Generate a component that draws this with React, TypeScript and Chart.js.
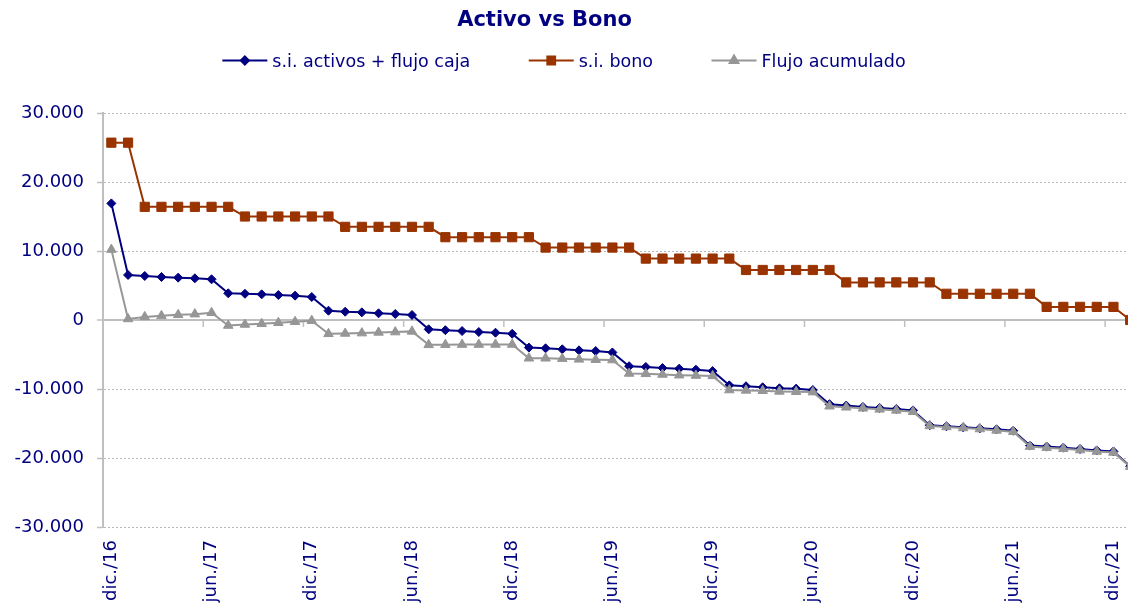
import React, { useEffect, useRef } from 'react';
import { Chart, registerables } from 'chart.js';
import { drawPoint } from 'chart.js/helpers';

Chart.register(...registerables);

const chartTitle = 'Activo vs Bono';

const categories = [
  'dic./16',
  'ene./17', 'feb./17', 'mar./17', 'abr./17', 'may./17', 'jun./17', 'jul./17', 'ago./17', 'sep./17', 'oct./17', 'nov./17', 'dic./17',
  'ene./18', 'feb./18', 'mar./18', 'abr./18', 'may./18', 'jun./18', 'jul./18', 'ago./18', 'sep./18', 'oct./18', 'nov./18', 'dic./18',
  'ene./19', 'feb./19', 'mar./19', 'abr./19', 'may./19', 'jun./19', 'jul./19', 'ago./19', 'sep./19', 'oct./19', 'nov./19', 'dic./19',
  'ene./20', 'feb./20', 'mar./20', 'abr./20', 'may./20', 'jun./20', 'jul./20', 'ago./20', 'sep./20', 'oct./20', 'nov./20', 'dic./20',
  'ene./21', 'feb./21', 'mar./21', 'abr./21', 'may./21', 'jun./21', 'jul./21', 'ago./21', 'sep./21', 'oct./21', 'nov./21', 'dic./21',
  'ene./22',
];

const seriesNames = ['s.i. activos + flujo caja', 's.i. bono', 'Flujo acumulado'];

const activosFlujoCaja = [
  16900,
  6520, 6380, 6230, 6140, 6040, 5900,
  3870, 3800, 3720, 3620, 3530, 3330,
  1350, 1200, 1110, 970, 870, 720,
  -1350, -1480, -1600, -1740, -1840, -2000,
  -4000, -4100, -4250, -4400, -4500, -4700,
  -6700, -6800, -6960, -7050, -7200, -7400,
  -9470, -9600, -9750, -9900, -9950, -10150,
  -12200, -12400, -12600, -12750, -12900, -13100,
  -15250, -15400, -15550, -15700, -15850, -16050,
  -18200, -18350, -18500, -18700, -18900, -19050,
  -21200,
];

const siBono = [
  25700, 25700,
  16400, 16400, 16400, 16400, 16400, 16400,
  15000, 15000, 15000, 15000, 15000, 15000,
  13500, 13500, 13500, 13500, 13500, 13500,
  12000, 12000, 12000, 12000, 12000, 12000,
  10500, 10500, 10500, 10500, 10500, 10500,
  8900, 8900, 8900, 8900, 8900, 8900,
  7250, 7250, 7250, 7250, 7250, 7250,
  5450, 5450, 5450, 5450, 5450, 5450,
  3800, 3800, 3800, 3800, 3800, 3800,
  1900, 1900, 1900, 1900, 1900,
  0,
];

const flujoAcumulado = [
  10200,
  150, 450, 600, 750, 850, 1050,
  -800, -650, -550, -400, -250, -100,
  -2000, -1950, -1900, -1800, -1750, -1650,
  -3600, -3580, -3560, -3560, -3550, -3550,
  -5550, -5550, -5600, -5700, -5750, -5800,
  -7750, -7800, -7900, -8000, -8050, -8100,
  -10150, -10200, -10250, -10350, -10400, -10450,
  -12500, -12650, -12800, -12950, -13100, -13300,
  -15350, -15500, -15650, -15800, -16000, -16200,
  -18350, -18500, -18650, -18850, -19050, -19200,
  -21250,
];

const yMin = -30000;
const yMax = 30000;
const yStep = 10000;
const labelEvery = 6;

const FONT = "'DejaVu Sans', Verdana, sans-serif";
const NAVY = '#000080';
const ORANGE = '#993300';
const GRAY = '#969696';
const AXIS = '#bfbfbf';

function formatThousands(v: number): string {
  const s = String(Math.abs(Math.round(v))).replace(/\B(?=(\d{3})+(?!\d))/g, '.');
  return v < 0 ? '-' + s : s;
}

const overlayPlugin = {
  id: 'overlayPlugin',
  beforeDatasetsDraw(chart: any) {
    const { ctx, scales } = chart;
    const x = scales.x;
    const y = scales.y;
    const y0 = y.getPixelForValue(0);
    ctx.save();
    ctx.strokeStyle = AXIS;
    ctx.lineWidth = 1.5;
    for (let i = labelEvery; i < categories.length; i += labelEvery) {
      const xb = (x.getPixelForValue(i - 1) + x.getPixelForValue(i)) / 2;
      ctx.beginPath();
      ctx.moveTo(xb, y0);
      ctx.lineTo(xb, y0 + 7);
      ctx.stroke();
    }
    ctx.restore();
  },
  afterDraw(chart: any) {
    const { ctx } = chart;
    ctx.save();
    // Title
    ctx.font = `bold 21px ${FONT}`;
    ctx.fillStyle = NAVY;
    ctx.textAlign = 'center';
    ctx.textBaseline = 'alphabetic';
    ctx.fillText(chartTitle, 544.5, 26);

    // Legend
    ctx.font = `17.5px ${FONT}`;
    ctx.textAlign = 'left';
    const LINE = 45;
    const GAP_T = 5;
    const GAP = 58.5;
    const dsets = chart.data.datasets;
    const widths = dsets.map((d: any) => ctx.measureText(d.label).width);
    const total = widths.reduce((s: number, w: number) => s + LINE + GAP_T + w, 0) + GAP * (dsets.length - 1);
    let xx = 564 - total / 2;
    const ly = 60.5;
    dsets.forEach((d: any, i: number) => {
      ctx.strokeStyle = d.borderColor;
      ctx.lineWidth = 2;
      ctx.beginPath();
      ctx.moveTo(xx, ly);
      ctx.lineTo(xx + LINE, ly);
      ctx.stroke();
      ctx.fillStyle = d.pointBackgroundColor;
      ctx.strokeStyle = d.pointBorderColor;
      drawPoint(ctx, { pointStyle: d.pointStyle, radius: d.legendRadius, rotation: 0, borderWidth: 1 }, xx + LINE / 2, ly);
      ctx.fillStyle = NAVY;
      ctx.fillText(d.label, xx + LINE + GAP_T, 66.5);
      xx += LINE + GAP_T + widths[i] + GAP;
    });
    ctx.restore();
  },
};

export default function App() {
  const ref = useRef<HTMLCanvasElement | null>(null);

  useEffect(() => {
    if (!ref.current) return;
    const chart = new Chart(ref.current, {
      type: 'line',
      data: {
        labels: categories,
        datasets: [
          {
            label: seriesNames[0],
            data: activosFlujoCaja,
            borderColor: NAVY,
            backgroundColor: NAVY,
            pointBackgroundColor: NAVY,
            pointBorderColor: NAVY,
            pointStyle: 'rectRot',
            pointRadius: 4.5,
            legendRadius: 4,
            borderWidth: 2,
            pointBorderWidth: 1,
            order: 2,
          } as any,
          {
            label: seriesNames[1],
            data: siBono,
            borderColor: ORANGE,
            backgroundColor: ORANGE,
            pointBackgroundColor: ORANGE,
            pointBorderColor: ORANGE,
            pointStyle: 'rect',
            pointRadius: 6.5,
            legendRadius: 5.5,
            borderWidth: 2,
            pointBorderWidth: 1,
            order: 1,
          } as any,
          {
            label: seriesNames[2],
            data: flujoAcumulado,
            borderColor: GRAY,
            backgroundColor: GRAY,
            pointBackgroundColor: GRAY,
            pointBorderColor: GRAY,
            pointStyle: 'triangle',
            pointRadius: 5.5,
            legendRadius: 5,
            borderWidth: 2,
            pointBorderWidth: 1,
            order: 0,
          } as any,
        ],
      },
      options: {
        animation: false,
        responsive: false,
        devicePixelRatio: 1,
        layout: { padding: { top: 113, right: 3, left: 0, bottom: 0 } },
        plugins: {
          legend: { display: false },
          title: { display: false },
          tooltip: { enabled: false },
        },
        elements: { line: { tension: 0 } },
        scales: {
          x: {
            type: 'category',
            offset: true,
            grid: { display: false, drawTicks: false, offset: true },
            border: { display: false },
            ticks: {
              autoSkip: false,
              minRotation: 90,
              maxRotation: 90,
              padding: 13,
              color: NAVY,
              font: { family: FONT, size: 18 },
              callback: (_v: any, i: number) => (i % labelEvery === 0 ? categories[i] : ''),
            },
            afterFit: (s: any) => {
              s.height = 82;
              s.paddingLeft = 0;
              s.paddingRight = 0;
            },
          },
          y: {
            type: 'linear',
            min: yMin,
            max: yMax,
            ticks: {
              stepSize: yStep,
              padding: 13,
              color: NAVY,
              font: { family: FONT, size: 18 },
              callback: (v: any) => formatThousands(Number(v)),
            },
            grid: {
              color: (c: any) => (c.tick && c.tick.value === 0 ? AXIS : '#b8b8b8'),
              lineWidth: (c: any) => (c.tick && c.tick.value === 0 ? 2 : 1),
              drawTicks: true,
              tickLength: 6,
              tickColor: AXIS,
              tickWidth: 1.5,
            },
            border: {
              display: true,
              color: AXIS,
              width: 2,
              dash: (c: any) => (c.tick && c.tick.value === 0 ? [] : [2, 2]),
            },
            afterFit: (s: any) => {
              s.width = 103;
              s.paddingTop = 0;
              s.paddingBottom = 0;
            },
          },
        },
      },
      plugins: [overlayPlugin],
    } as any);
    return () => chart.destroy();
  }, []);

  return (
    <div
      style={{
        position: 'fixed',
        left: 0,
        top: 0,
        width: 1128,
        height: 609,
        overflow: 'hidden',
        background: '#ffffff',
      }}
    >
      <canvas ref={ref} width={1146} height={609} style={{ display: 'block', width: 1146, height: 609 }} />
    </div>
  );
}
